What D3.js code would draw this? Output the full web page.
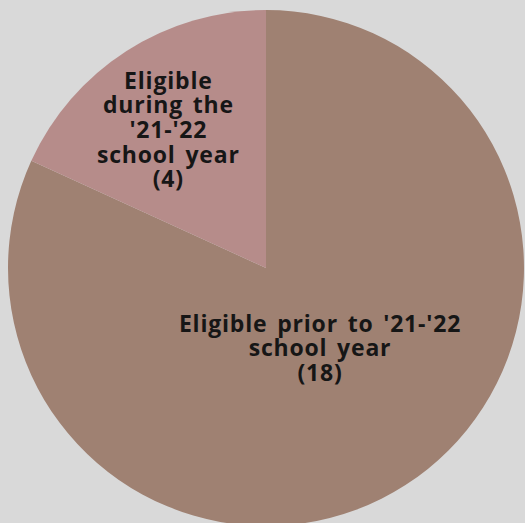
<!DOCTYPE html>
<html><head><meta charset="utf-8">
<script src="https://cdn.jsdelivr.net/npm/d3@7"></script>
<style>html,body{margin:0;padding:0;background:#d9d9d9;}</style>
</head><body>
<svg id="chart" width="525" height="523"></svg>
<script>
const categories = ["Eligible prior to '21-'22 school year", "Eligible during the '21-'22 school year"];
const values = [18, 4];
const labelLines = [
  ["Eligible prior to '21-'22", "school year", "(18)"],
  ["Eligible", "during the", "'21-'22", "school year", "(4)"]
];
const colors = ["#9f8172", "#b68c8a"];

const svg = d3.select("#chart");
const cx = 266, cy = 268, r = 258;
const g = svg.append("g").attr("transform", `translate(${cx},${cy})`);
const pie = d3.pie().sort(null).value(d => d)(values);
const arc = d3.arc().innerRadius(0).outerRadius(r);
const color = d3.scaleOrdinal().domain(d3.range(values.length)).range(colors);
g.selectAll("path").data(pie).join("path")
  .attr("d", arc).attr("fill", (d, i) => color(i));

const labelR = [r * 0.38, r * 0.65];
const labelShift = [[1, -2], [-7, 3]];
const lineH = 24.7;
pie.forEach((d, i) => {
  const [x0, y0] = d3.arc().innerRadius(labelR[i]).outerRadius(labelR[i]).centroid(d);
  const x = x0 + labelShift[i][0], y = y0 + labelShift[i][1];
  const lines = labelLines[i];
  const t = g.append("text").attr("text-anchor", "middle")
    .attr("font-family", "'Open Sans', sans-serif").attr("font-weight", 700)
    .attr("font-size", 23).attr("letter-spacing", 0.8).attr("word-spacing", 3)
    .attr("fill", "#161616");
  lines.forEach((l, k) => {
    t.append("tspan").attr("x", x)
      .attr("y", y + (k - (lines.length - 1) / 2) * lineH + 8).text(l);
  });
});
</script>
</body></html>
